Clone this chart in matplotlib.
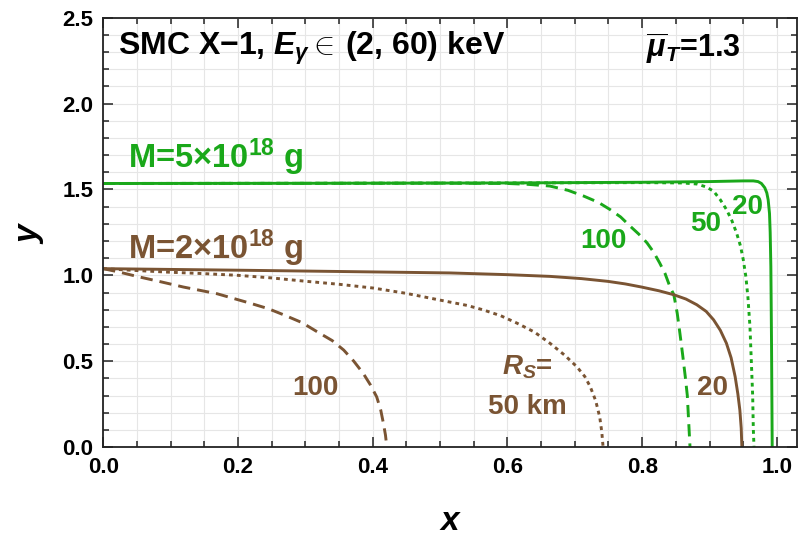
import matplotlib
matplotlib.use("Agg")
import matplotlib.pyplot as plt
from matplotlib.ticker import MultipleLocator, FormatStrFormatter

plt.rcParams["font.family"] = ["Liberation Sans", "DejaVu Sans"]
plt.rcParams["font.weight"] = "bold"
plt.rcParams["mathtext.fontset"] = "custom"
plt.rcParams["mathtext.rm"] = "Liberation Sans:bold"
plt.rcParams["mathtext.it"] = "Liberation Sans:bold:italic"
plt.rcParams["mathtext.bf"] = "Liberation Sans:bold"

GREEN = "#1aa81a"
BROWN = "#7a5433"

# M = 5e18 g curves (green)
g20_x = [0.0, 0.3, 0.6, 0.8, 0.9, 0.95, 0.965, 0.972, 0.977, 0.982, 0.985, 0.987, 0.989,
         0.990, 0.991, 0.992, 0.993]
g20_y = [1.535, 1.536, 1.538, 1.542, 1.546, 1.55, 1.55, 1.546, 1.535, 1.51, 1.48, 1.44, 1.36,
         1.25, 1.05, 0.6, 0.0]
g50_x = [0.0, 0.3, 0.6, 0.8, 0.86, 0.881, 0.895, 0.906, 0.916, 0.925, 0.933, 0.940, 0.946,
         0.950, 0.954, 0.957, 0.960, 0.962, 0.964, 0.965, 0.966]
g50_y = [1.535, 1.536, 1.538, 1.540, 1.538, 1.532, 1.515, 1.49, 1.44, 1.384, 1.32, 1.248, 1.17,
         1.092, 0.99, 0.87, 0.70, 0.5, 0.3, 0.1, 0.0]
g100_x = [0.0, 0.3, 0.5, 0.6, 0.63, 0.663, 0.69, 0.713, 0.735, 0.752, 0.768, 0.782, 0.795,
          0.807, 0.817, 0.826, 0.834, 0.841, 0.847, 0.852, 0.856, 0.860, 0.864, 0.867, 0.869,
          0.871]
g100_y = [1.535, 1.536, 1.537, 1.535, 1.53, 1.52, 1.495, 1.462, 1.425, 1.384, 1.34, 1.287, 1.24,
          1.19, 1.135, 1.072, 1.01, 0.936, 0.887, 0.78, 0.663, 0.54, 0.409, 0.3, 0.15, 0.0]

# M = 2e18 g curves (brown)
b20_x = [0.0, 0.2, 0.4, 0.515, 0.6, 0.663, 0.71, 0.749, 0.775, 0.799, 0.825, 0.847, 0.865,
         0.881, 0.895, 0.906, 0.916, 0.925, 0.932, 0.938, 0.942, 0.945, 0.947, 0.948]
b20_y = [1.039, 1.03, 1.02, 1.014, 1.004, 0.994, 0.981, 0.965, 0.95, 0.932, 0.91, 0.887, 0.862,
         0.829, 0.79, 0.741, 0.68, 0.605, 0.52, 0.41, 0.31, 0.215, 0.11, 0.0]
b50_x = [0.0, 0.05, 0.1, 0.15, 0.2, 0.25, 0.302, 0.35, 0.401, 0.45, 0.51, 0.54, 0.564, 0.59,
         0.614, 0.64, 0.663, 0.685, 0.703, 0.715, 0.723, 0.731, 0.737, 0.740, 0.742]
b50_y = [1.039, 1.028, 1.018, 1.01, 1.0, 0.985, 0.965, 0.948, 0.926, 0.895, 0.848, 0.825, 0.799,
         0.765, 0.722, 0.67, 0.605, 0.535, 0.468, 0.41, 0.351, 0.27, 0.175, 0.09, 0.0]
b100_x = [0.0, 0.025, 0.05, 0.085, 0.119, 0.169, 0.218, 0.245, 0.268, 0.295, 0.317, 0.34, 0.357,
          0.372, 0.386, 0.397, 0.406, 0.412, 0.416, 0.419, 0.421]
b100_y = [1.039, 1.018, 0.994, 0.963, 0.932, 0.893, 0.838, 0.806, 0.770, 0.725, 0.673, 0.62,
          0.565, 0.5, 0.429, 0.36, 0.292, 0.215, 0.137, 0.07, 0.0]

fig = plt.figure(figsize=(8.06, 5.38), dpi=100)
ax = fig.add_axes([0.128, 0.169, 0.861, 0.798])

lw = 2.1
dash = (0, (4.2, 2.4))
dot = (0, (1.3, 1.4))
ax.plot(g20_x, g20_y, color=GREEN, lw=lw)
ax.plot(g50_x, g50_y, color=GREEN, lw=lw, linestyle=dot)
ax.plot(g100_x, g100_y, color=GREEN, lw=lw, linestyle=dash)
ax.plot(b20_x, b20_y, color=BROWN, lw=lw)
ax.plot(b50_x, b50_y, color=BROWN, lw=lw, linestyle=dot)
ax.plot(b100_x, b100_y, color=BROWN, lw=lw, linestyle=dash)

ax.set_xlim(0, 1.03)
ax.set_ylim(0, 2.5)
ax.xaxis.set_major_locator(MultipleLocator(0.2))
ax.xaxis.set_minor_locator(MultipleLocator(0.05))
ax.yaxis.set_major_locator(MultipleLocator(0.5))
ax.yaxis.set_minor_locator(MultipleLocator(0.1))
ax.xaxis.set_major_formatter(FormatStrFormatter("%.1f"))
ax.yaxis.set_major_formatter(FormatStrFormatter("%.1f"))
ax.grid(which="both", color="#e6e6e6", lw=0.8)
ax.set_axisbelow(True)
ax.tick_params(which="both", direction="in", top=True, right=True, width=1.1, color="#222222")
ax.tick_params(which="major", length=7, labelsize=16, pad=7)
ax.tick_params(which="minor", length=4)
for lab in ax.get_xticklabels() + ax.get_yticklabels():
    lab.set_fontweight("bold")
for s in ax.spines.values():
    s.set_linewidth(1.3)
    s.set_color("#222222")

ax.set_xlabel("$x$", fontsize=24, labelpad=20)
ax.set_ylabel("$y$", fontsize=24, labelpad=12)

ax.text(0.022, 2.32, r"SMC X$-$1, $E_\gamma \in\!$ (2, 60) keV", fontsize=23,
        fontweight="bold", va="center", ha="left")
ax.text(0.806, 2.32, r"$\overline{\mu}_T$=1.3", fontsize=22, fontweight="bold",
        va="center", ha="left")

ax.text(0.037, 1.69, r"M=5$\times$10$^{18}$ g", color=GREEN, fontsize=23.5,
        fontweight="bold", va="center", ha="left")
ax.text(0.037, 1.16, r"M=2$\times$10$^{18}$ g", color=BROWN, fontsize=23.5,
        fontweight="bold", va="center", ha="left")

fs = 20
ax.text(0.743, 1.20, "100", color=GREEN, fontsize=fs, fontweight="bold", ha="center", va="center")
ax.text(0.894, 1.30, "50", color=GREEN, fontsize=fs, fontweight="bold", ha="center", va="center")
ax.text(0.957, 1.40, "20", color=GREEN, fontsize=fs, fontweight="bold", ha="center", va="center")
ax.text(0.315, 0.343, "100", color=BROWN, fontsize=fs, fontweight="bold", ha="center", va="center")
ax.text(0.629, 0.466, r"$R_S$=", color=BROWN, fontsize=fs, fontweight="bold", ha="center", va="center")
ax.text(0.629, 0.234, "50 km", color=BROWN, fontsize=fs, fontweight="bold", ha="center", va="center")
ax.text(0.904, 0.343, "20", color=BROWN, fontsize=fs, fontweight="bold", ha="center", va="center")

fig.savefig("out.png", dpi=100)
